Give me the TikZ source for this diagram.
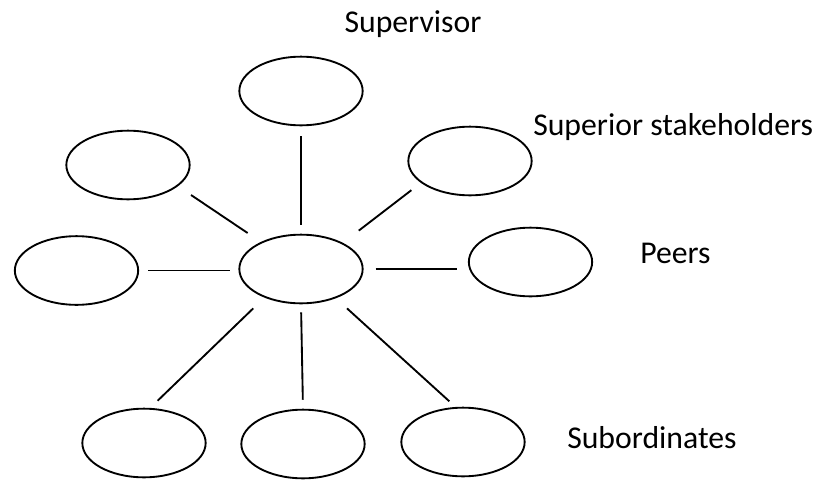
\documentclass[tikz,border=0pt]{standalone}
\usepackage{fontspec}
\setmainfont{Carlito}
\usetikzlibrary{shapes.geometric}
\tikzset{
  bubble/.style={draw, ellipse, line width=1.4pt, minimum width=92.5pt, minimum height=51.5pt, inner sep=0pt},
  link/.style={line width=1.4pt},
  rolelabel/.style={font=\fontsize{23.8}{28}\selectfont, inner sep=0pt},
}
\begin{document}
\begin{tikzpicture}[x=0.75pt, y=-0.75pt]
  \useasboundingbox (0,0) rectangle (822,479);
  % centre and the people round it
  \node[bubble] (me) at (301,269) {};
  \node[bubble] (sup) at (301,91) {};
  \node[bubble] (supl) at (128,165) {};
  \node[bubble] (supr) at (470,161) {};
  \node[bubble] (peerl) at (76.5,270.5) {};
  \node[bubble] (peerr) at (530.5,262) {};
  \node[bubble] (subl) at (144,443) {};
  \node[bubble] (subm) at (303,444) {};
  \node[bubble] (subr) at (463,442) {};
  % labels
  \node[rolelabel, anchor=base] (supervisor) at (413,32.5) {Supervisor};
  \node[rolelabel, anchor=base west] (superior) at (533,135) {Superior stakeholders};
  \node[rolelabel, anchor=base west] (peers) at (640,263) {Peers};
  \node[rolelabel, anchor=base west] (subs) at (567,448) {Subordinates};
  % links
  \draw[link, shorten <=7.5pt, shorten >=6.75pt] (sup.south) -- (me.north);
  \draw[link, shorten <=11.8pt, shorten >=12pt] (supl.-23.5) -- (me.146);
  \draw[link, shorten <=9pt, shorten >=15pt] (supr.204) -- (me.32);
  \draw[link, shorten <=6.75pt, shorten >=6pt] (peerl.east) -- (peerl.east -| me.west);
  \draw[link, shorten <=9pt, shorten >=8.25pt] (me.east) -- (me.east -| peerr.west);
  \draw[link, shorten <=11.6pt, shorten >=7.7pt] (me.218) -- (subl.80);
  \draw[link, shorten <=6pt, shorten >=6.75pt] (me.south) -- (subm.north);
  \draw[link, shorten <=11.25pt, shorten >=6.3pt] (me.-40) -- (subr.102);
\end{tikzpicture}
\end{document}
